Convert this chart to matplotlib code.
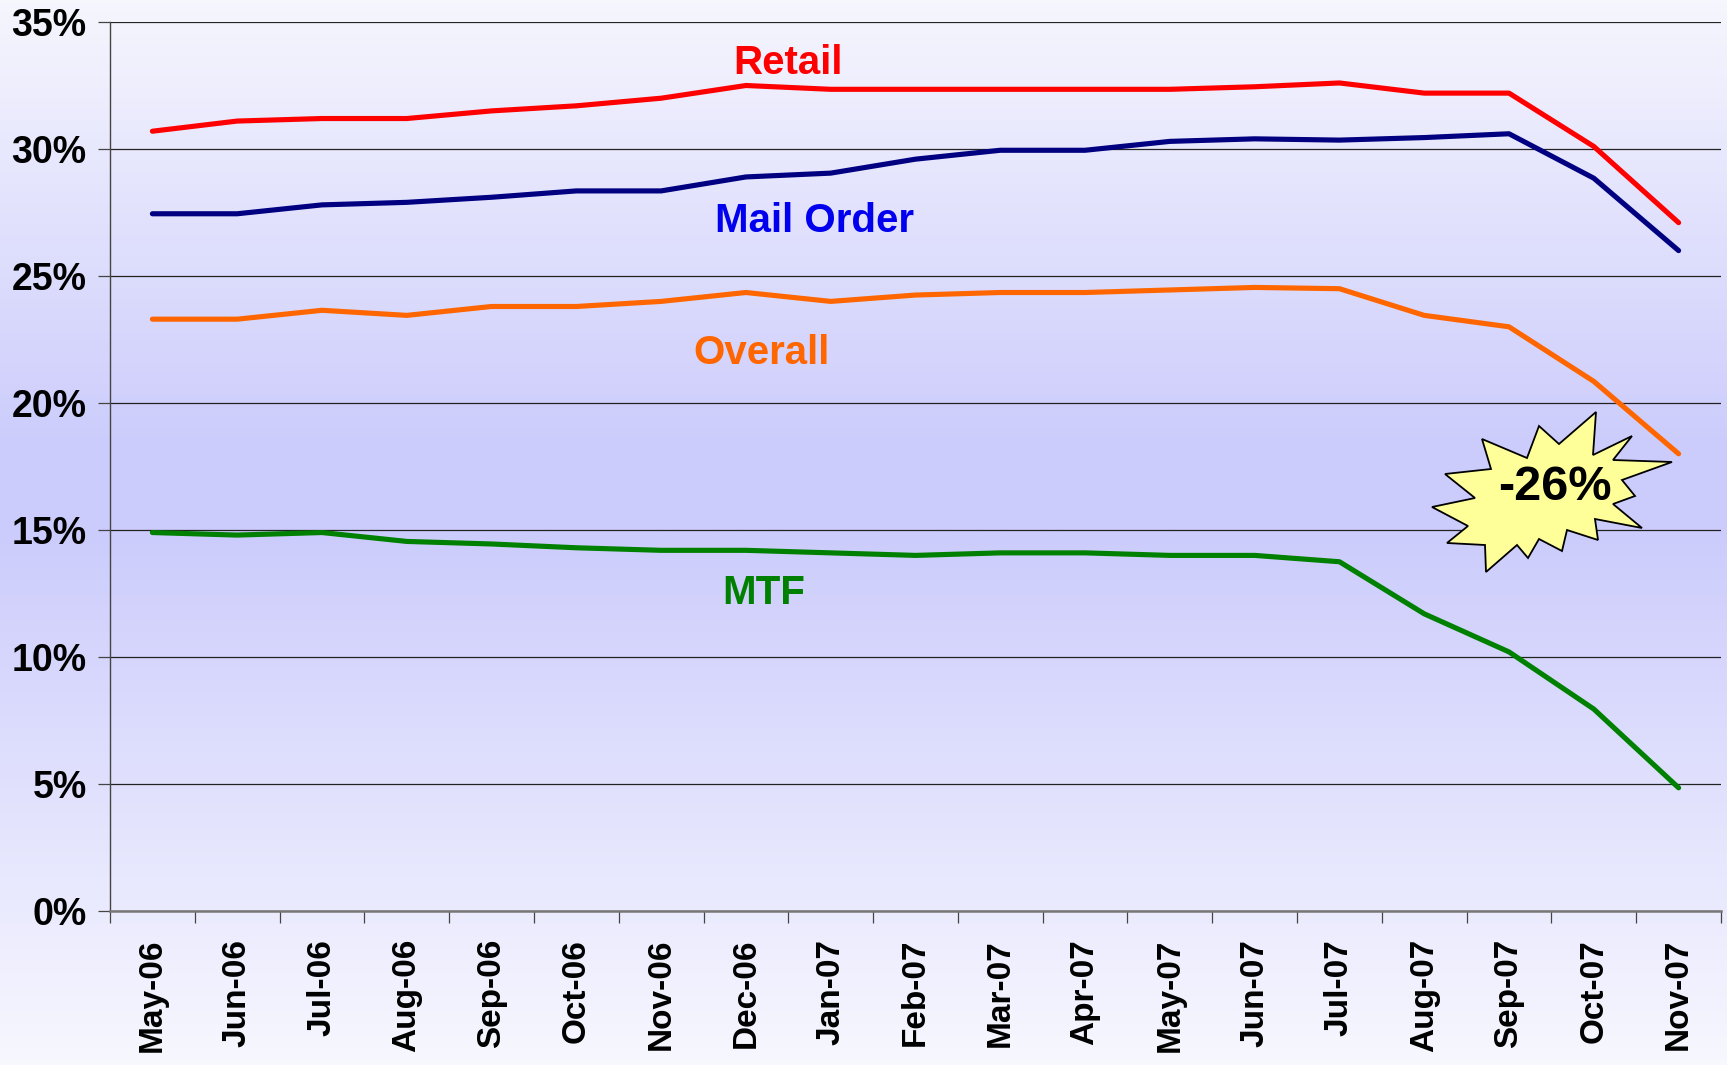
import numpy as np
import matplotlib
matplotlib.use("Agg")
import matplotlib.pyplot as plt
from matplotlib.patches import Polygon

# Data (percent)
months = ['May-06', 'Jun-06', 'Jul-06', 'Aug-06', 'Sep-06', 'Oct-06', 'Nov-06', 'Dec-06',
          'Jan-07', 'Feb-07', 'Mar-07', 'Apr-07', 'May-07', 'Jun-07', 'Jul-07', 'Aug-07',
          'Sep-07', 'Oct-07', 'Nov-07']
retail = [30.7, 31.1, 31.2, 31.2, 31.5, 31.7, 32.0, 32.5, 32.35, 32.35, 32.35, 32.35,
          32.35, 32.45, 32.6, 32.2, 32.2, 30.1, 27.1]
mail_order = [27.45, 27.45, 27.8, 27.9, 28.1, 28.35, 28.35, 28.9, 29.05, 29.6, 29.95, 29.95,
              30.3, 30.4, 30.35, 30.45, 30.6, 28.85, 26.0]
overall = [23.3, 23.3, 23.65, 23.45, 23.8, 23.8, 24.0, 24.35, 24.0, 24.25, 24.35, 24.35,
           24.45, 24.55, 24.5, 23.45, 23.0, 20.85, 18.0]
mtf = [14.9, 14.8, 14.9, 14.55, 14.45, 14.3, 14.2, 14.2, 14.1, 14.0, 14.1, 14.1,
       14.0, 14.0, 13.75, 11.7, 10.2, 7.95, 4.85]
yticks = [0, 5, 10, 15, 20, 25, 30, 35]

# Starburst outline, figure pixels (top-left origin)
burst = [(1596, 412), (1593, 455), (1632, 436), (1613, 460), (1672, 462), (1622, 480),
         (1635, 496), (1613, 504), (1642, 528), (1595, 519), (1598, 540), (1567, 530),
         (1562, 551), (1539, 539), (1528, 558), (1517, 545), (1486, 572), (1485, 545),
         (1447, 543), (1468, 526), (1432, 507), (1475, 498), (1445, 474), (1491, 469),
         (1482, 439), (1527, 458), (1539, 426), (1559, 444)]

W, H = 1727, 1065
FONT = 'Liberation Sans'


def background(fig):
  # vertical lavender gradient behind everything
  bg = fig.add_axes([0, 0, 1, 1], zorder=-10)
  stops = [0.0, 0.42, 0.50, 1.0]
  top = np.array([0.965, 0.965, 0.995])
  mid = np.array([0.80, 0.80, 0.99])
  bot = np.array([0.97, 0.97, 1.0])
  cols = [top, mid, mid, bot]
  t = np.linspace(0, 1, 400)
  grad = np.zeros((400, 1, 3))
  for c in range(3):
    grad[:, 0, c] = np.interp(t, stops, [cc[c] for cc in cols])
  bg.imshow(grad, aspect='auto', extent=[0, 1, 0, 1], origin='upper')
  bg.set_axis_off()


def main():
  fig = plt.figure(figsize=(W / 100, H / 100), dpi=100)
  background(fig)

  ax = fig.add_axes([110 / W, 1 - 911 / H, (1721 - 110) / W, (911 - 22) / H])
  ax.set_facecolor('none')
  x = np.arange(len(months))

  ax.plot(x, retail, color='#FF0000', lw=3.7, solid_capstyle='round', zorder=3)
  ax.plot(x, mail_order, color='#000080', lw=3.7, solid_capstyle='round', zorder=3)
  ax.plot(x, overall, color='#FF6600', lw=3.7, solid_capstyle='round', zorder=3)
  ax.plot(x, mtf, color='#008000', lw=3.7, solid_capstyle='round', zorder=3)

  # series labels
  lab = dict(fontsize=29, fontweight='bold', family=FONT, ha='center', va='center')
  ax.text(7.5, 33.4, 'Retail', color='#FF0000', **lab)
  ax.text(7.81, 27.15, 'Mail Order', color='#0000EE', **lab)
  ax.text(7.19, 21.95, 'Overall', color='#FF6600', **lab)
  ax.text(7.21, 12.5, 'MTF', color='#008000', **lab)

  # axes styling
  ax.set_xlim(-0.5, len(months) - 0.5)
  ax.set_ylim(0, 35)
  ax.set_yticks(yticks)
  ax.set_yticklabels([f'{v}%' for v in yticks], fontsize=27, fontweight='bold', family=FONT)
  ax.yaxis.grid(True, color='#222222', lw=0.9)
  ax.set_axisbelow(True)

  ax.set_xticks(np.arange(-0.5, len(months), 1.0))
  ax.set_xticklabels([])
  ax.set_xticks(x, minor=True)
  ax.set_xticklabels(months, minor=True, rotation=90, fontsize=24, fontweight='bold',
                     family=FONT, va='top', ha='center')
  ax.tick_params(axis='x', which='major', length=8.5, width=0.9, color='#444444', direction='out')
  ax.tick_params(axis='x', which='minor', length=0, pad=20)
  ax.tick_params(axis='y', length=8.3, width=0.9, color='#444444', pad=8.5)

  for s in ['top', 'right']:
    ax.spines[s].set_visible(False)
  ax.spines['left'].set_color('#444444')
  ax.spines['left'].set_linewidth(1.0)
  ax.spines['bottom'].set_color('#777777')
  ax.spines['bottom'].set_linewidth(1.8)

  # -26% starburst
  pts = [(px / W, 1 - py / H) for px, py in burst]
  star = Polygon(pts, closed=True, transform=fig.transFigure, facecolor='#FFFF99',
                 edgecolor='black', lw=1.3, zorder=5)
  fig.patches.append(star)
  fig.text(1555 / W, 1 - 487 / H, '-26%', fontsize=35, fontweight='bold', family=FONT,
           ha='center', va='center', zorder=6)

  plt.savefig('out.png', dpi=100)


if __name__ == "__main__":
  main()
